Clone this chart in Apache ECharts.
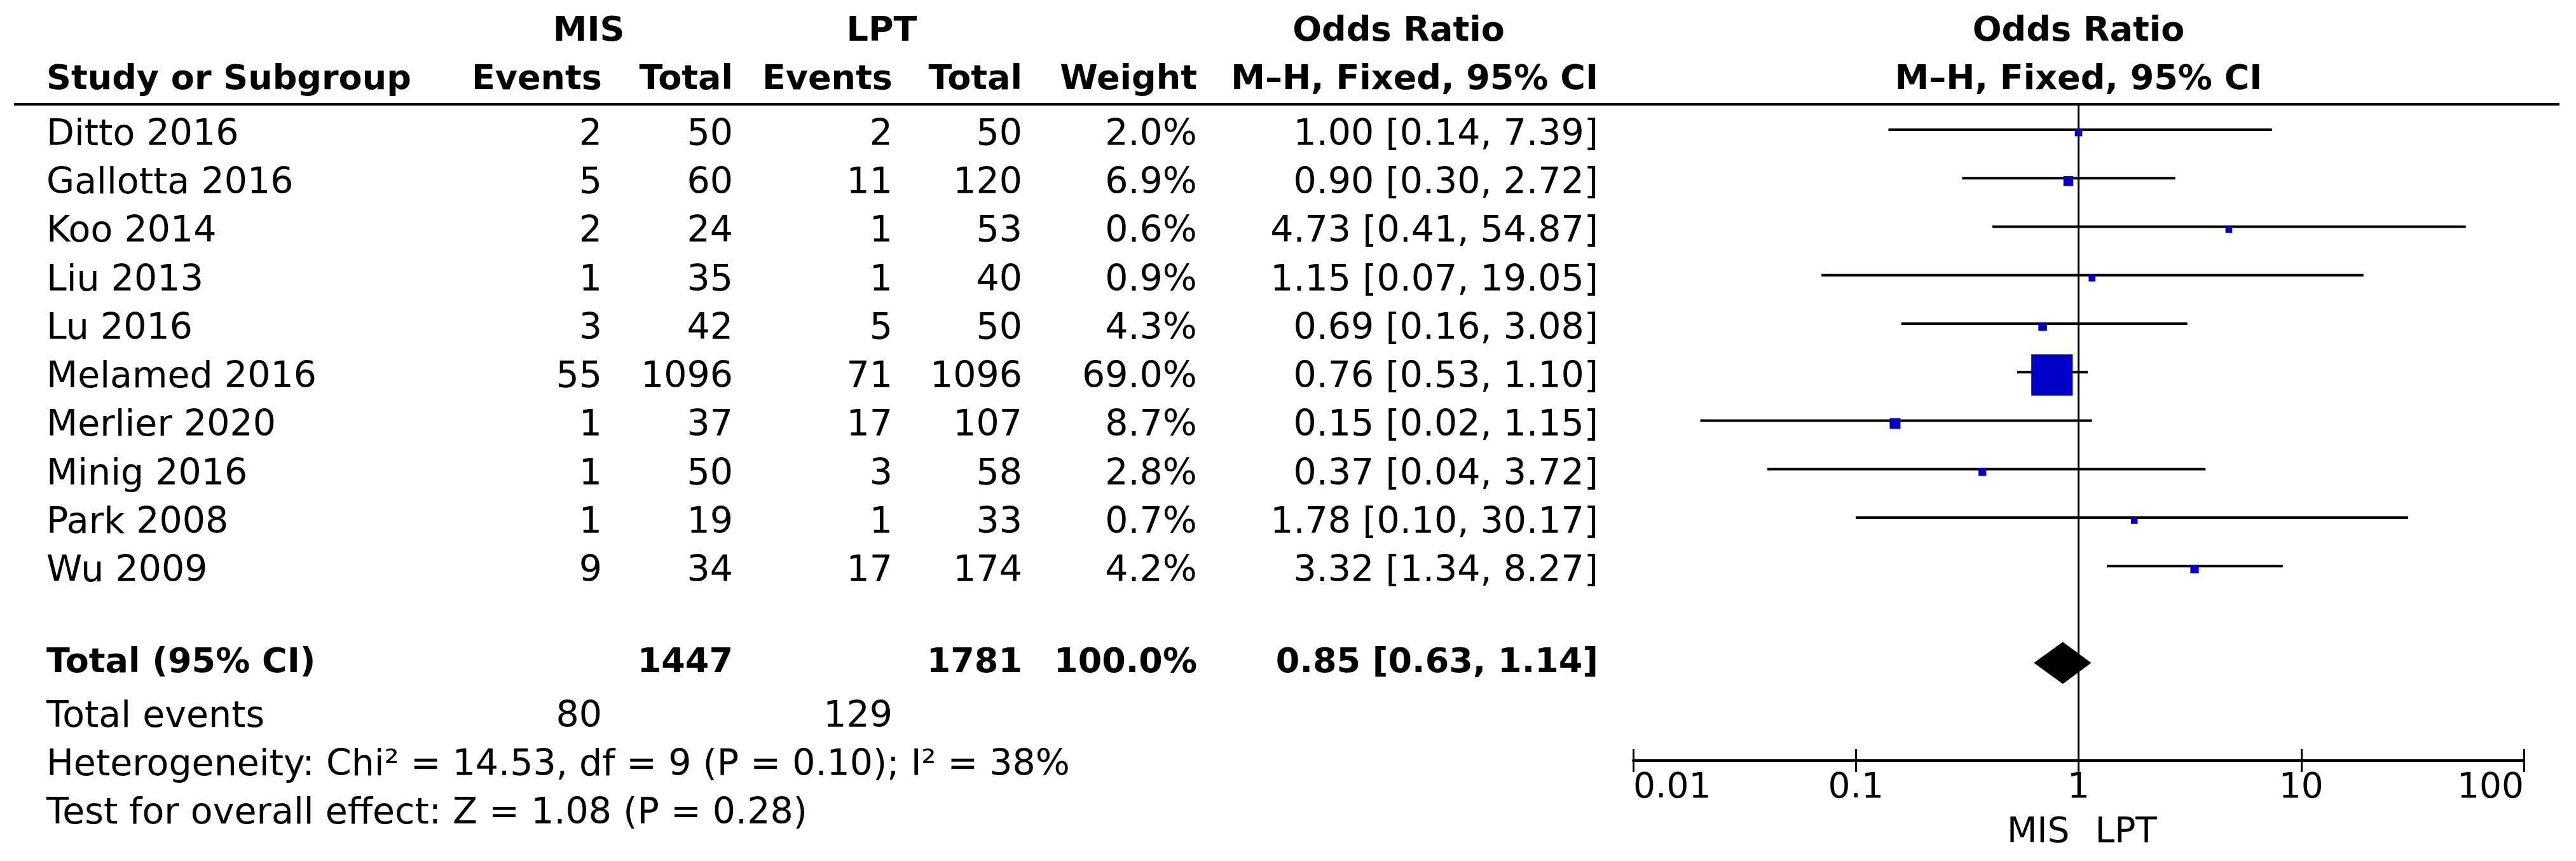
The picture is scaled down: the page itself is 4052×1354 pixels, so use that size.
<!DOCTYPE html>
<html><head><meta charset="utf-8">
<script src="https://cdn.jsdelivr.net/npm/echarts@6/dist/echarts.min.js"></script>
<style>html,body{margin:0;padding:0;background:#fff}#c{width:4052px;height:1354px}</style>
</head><body><div id="c"></div>
<script>
// ---------- data ----------
const studies   = ['Ditto 2016','Gallotta 2016','Koo 2014','Liu 2013','Lu 2016','Melamed 2016','Merlier 2020','Minig 2016','Park 2008','Wu 2009'];
const misEvents = [2, 5, 2, 1, 3, 55, 1, 1, 1, 9];
const misTotal  = [50, 60, 24, 35, 42, 1096, 37, 50, 19, 34];
const lptEvents = [2, 11, 1, 1, 5, 71, 17, 3, 1, 17];
const lptTotal  = [50, 120, 53, 40, 50, 1096, 107, 58, 33, 174];
const weights   = [2.0, 6.9, 0.6, 0.9, 4.3, 69.0, 8.7, 2.8, 0.7, 4.2];
const oddsRatio = [1.00, 0.90, 4.73, 1.15, 0.69, 0.76, 0.15, 0.37, 1.78, 3.32];
const ciLow     = [0.14, 0.30, 0.41, 0.07, 0.16, 0.53, 0.02, 0.04, 0.10, 1.34];
const ciHigh    = [7.39, 2.72, 54.87, 19.05, 3.08, 1.10, 1.15, 3.72, 30.17, 8.27];
const pooled    = [0.85, 0.63, 1.14];
const totals    = {misTotal: 1447, lptTotal: 1781, weight: '100.0%', misEvents: 80, lptEvents: 129};
const hetText   = 'Heterogeneity: Chi² = 14.53, df = 9 (P = 0.10); I² = 38%';
const testText  = 'Test for overall effect: Z = 1.08 (P = 0.28)';
const tickValues = [0.01, 0.1, 1, 10, 100];
const favourLeft = 'MIS', favourRight = 'LPT';

// ---------- layout ----------
const FONT = '"DejaVu Sans", sans-serif';
const REG = 57, BOLD = 54;
const Y_MIN = -0.6426, Y_MAX = 12.892;   // row units of y axis
const ROW_TOTAL = 10.88, ROW_EVENTS = 12, ROW_HET = 13, ROW_TEST = 14;
const ROW_H1 = -2.14, ROW_H2 = -1.14;
const col = {name: 73, misE: 947, misT: 1153, lptE: 1404, lptT: 1608, w: 1883, ci: 2514};

const chart = echarts.init(document.getElementById('c'), null, {renderer: 'canvas'});

const studyData = studies.map((s, i) => [i, oddsRatio[i], ciLow[i], ciHigh[i], weights[i]]);

chart.setOption({
  animation: false,
  backgroundColor: '#fff',
  grid: {left: 2569, width: 1401, top: 164, height: 1032, containLabel: false},
  xAxis: [
    {type: 'log', logBase: 10, min: 0.01, max: 100, position: 'bottom',
     axisLine: {show: true, onZero: false, lineStyle: {color: '#000', width: 4}},
     axisTick: {show: true, inside: false, length: 18, lineStyle: {color: '#000', width: 3}},
     splitLine: {show: false}, minorTick: {show: false},
     axisLabel: {show: true, color: '#000', fontSize: 55, fontFamily: FONT, margin: 16,
       alignMinLabel: 'left', alignMaxLabel: 'right',
       formatter: v => String(+v.toPrecision(3))}},
    {type: 'log', logBase: 10, min: 0.01, max: 100, position: 'bottom', gridIndex: 0,
     axisLine: {show: false, onZero: false},
     axisTick: {show: true, inside: true, length: 18, lineStyle: {color: '#000', width: 3}},
     splitLine: {show: false}, axisLabel: {show: false}}
  ],
  yAxis: {type: 'value', min: Y_MIN, max: Y_MAX, inverse: true, show: false,
    axisLine: {show: false, onZero: false}, splitLine: {show: false}},
  series: [
    {type: 'line', data: [], z: 1, silent: true,
     markLine: {silent: true, symbol: 'none', animation: false,
       lineStyle: {color: '#000', width: 3, type: 'solid'}, label: {show: false},
       emphasis: {disabled: true}, data: [{xAxis: 1}]}},
    {type: 'custom', z: 5, clip: false, silent: true,
     encode: {x: [1, 2, 3], y: 0},
     data: studyData,
     renderItem(params, api) {
       const y = api.value(0);
       const a = api.coord([api.value(2), y]);
       const b = api.coord([api.value(3), y]);
       const c = api.coord([api.value(1), y]);
       const s = 10 + 0.8 * api.value(4);
       return {type: 'group', children: [
         {type: 'line', shape: {x1: a[0], y1: a[1] - 9, x2: b[0], y2: b[1] - 9},
          style: {stroke: '#000', lineWidth: 4}},
         {type: 'rect', shape: {x: c[0] - s / 2, y: c[1] - 4.5 - s / 2, width: s, height: s},
          style: {fill: '#0000C8'}}
       ]};
     }},
    {type: 'custom', z: 5, clip: false, silent: true,
     encode: {x: [1, 2, 3], y: 0},
     data: [[ROW_TOTAL, pooled[0], pooled[1], pooled[2]]],
     renderItem(params, api) {
       const y = api.value(0);
       const l = api.coord([api.value(2), y]);
       const r = api.coord([api.value(3), y]);
       const c = api.coord([api.value(1), y]);
       return {type: 'polygon',
         shape: {points: [[l[0], l[1]], [c[0], c[1] - 33], [r[0], r[1]], [c[0], c[1] + 33]]},
         style: {fill: '#000'}};
     }}
  ]
});

// ---------- table text ----------
const yPix = r => chart.convertToPixel({yAxisIndex: 0}, r);
const xPix = v => chart.convertToPixel({xAxisIndex: 0}, v);
function T(x, row, text, align, bold, size) {
  const fs = size || (bold ? BOLD : REG);
  return {type: 'text', x: x, y: typeof row === 'number' ? yPix(row) : row.px, silent: true,
    style: {text: String(text), fill: '#000', fontSize: fs, fontFamily: FONT,
      fontWeight: bold ? 'bold' : 'normal',
      align: align, textAlign: align, verticalAlign: 'middle', textVerticalAlign: 'middle'}};
}
const g = [];
// header
g.push(T(926, ROW_H1, 'MIS', 'center', true));
g.push(T(1387, ROW_H1, 'LPT', 'center', true));
g.push(T(2200, ROW_H1, 'Odds Ratio', 'center', true));
g.push(T(xPix(1), ROW_H1, 'Odds Ratio', 'center', true));
g.push(T(col.name, ROW_H2, 'Study or Subgroup', 'left', true));
g.push(T(col.misE, ROW_H2, 'Events', 'right', true));
g.push(T(col.misT, ROW_H2, 'Total', 'right', true));
g.push(T(col.lptE, ROW_H2, 'Events', 'right', true));
g.push(T(col.lptT, ROW_H2, 'Total', 'right', true));
g.push(T(col.w, ROW_H2, 'Weight', 'right', true));
g.push(T(col.ci, ROW_H2, 'M–H, Fixed, 95% CI', 'right', true));
g.push(T(xPix(1), ROW_H2, 'M–H, Fixed, 95% CI', 'center', true));
// header rule
const ruleY = yPix(Y_MIN);
g.push({type: 'line', silent: true, shape: {x1: 22, y1: ruleY, x2: 4026, y2: ruleY},
  style: {stroke: '#000', lineWidth: 4}});
// study rows
studies.forEach((s, i) => {
  g.push(T(col.name, i, s, 'left'));
  g.push(T(col.misE, i, misEvents[i], 'right'));
  g.push(T(col.misT, i, misTotal[i], 'right'));
  g.push(T(col.lptE, i, lptEvents[i], 'right'));
  g.push(T(col.lptT, i, lptTotal[i], 'right'));
  g.push(T(col.w, i, weights[i].toFixed(1) + '%', 'right'));
  g.push(T(col.ci, i, oddsRatio[i].toFixed(2) + ' [' + ciLow[i].toFixed(2) + ', ' + ciHigh[i].toFixed(2) + ']', 'right'));
});
// total rows
g.push(T(col.name, ROW_TOTAL, 'Total (95% CI)', 'left', true));
g.push(T(col.misT, ROW_TOTAL, totals.misTotal, 'right', true));
g.push(T(col.lptT, ROW_TOTAL, totals.lptTotal, 'right', true));
g.push(T(col.w, ROW_TOTAL, totals.weight, 'right', true));
g.push(T(col.ci, ROW_TOTAL, pooled[0].toFixed(2) + ' [' + pooled[1].toFixed(2) + ', ' + pooled[2].toFixed(2) + ']', 'right', true));
g.push(T(col.name, ROW_EVENTS, 'Total events', 'left'));
g.push(T(col.misE, ROW_EVENTS, totals.misEvents, 'right'));
g.push(T(col.lptE, ROW_EVENTS, totals.lptEvents, 'right'));
g.push(T(col.name, ROW_HET, hetText, 'left'));
g.push(T(col.name, ROW_TEST, testText, 'left'));
// favours labels
const axisY = yPix(Y_MAX);
g.push(T(xPix(1) - 14, {px: axisY + 114}, favourLeft, 'right', false, 55));
g.push(T(xPix(1) + 26, {px: axisY + 114}, favourRight, 'left', false, 55));

chart.setOption({graphic: g});
</script>
</body></html>
